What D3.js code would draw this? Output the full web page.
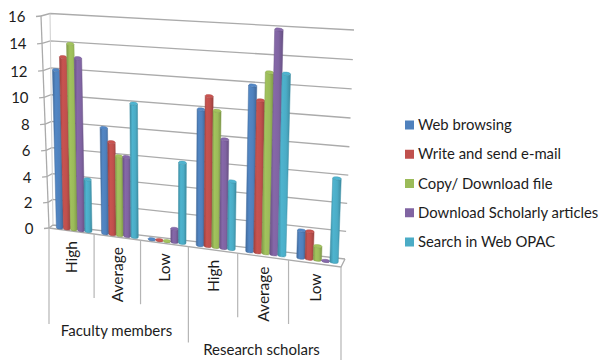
<!DOCTYPE html>
<html>
<head>
<meta charset="utf-8">
<script src="https://cdn.jsdelivr.net/npm/d3@7"></script>
<style>
  html, body { margin: 0; padding: 0; background: #fff; }
  text { font-family: Lato, "Open Sans", sans-serif; fill: #1c1c1c; }
</style>
</head>
<body>
<svg id="chart" width="601" height="360"></svg>
<script>
// Usage level counts per respondent group
const groups = ["Faculty members", "Research scholars"];
const levels = ["High", "Average", "Low"];
const seriesNames = ["Web browsing", "Write and send e-mail", "Copy/ Download file", "Download Scholarly articles", "Search in Web OPAC"];
const seriesColors = ["#4F81BD", "#C0504D", "#9BBB59", "#8064A2", "#4BACC6"];
const webBrowsing = [12, 8, 0, 10, 12, 2];
const writeEmail = [13, 7, 0, 11, 11, 2];
const copyDownload = [14, 6, 0, 10, 13, 1];
const downloadArticles = [13, 6, 1, 8, 16, 0];
const searchOpac = [4, 10, 6, 5, 13, 6];
const seriesValues = [webBrowsing, writeEmail, copyDownload, downloadArticles, searchOpac];
const valueTicks = [0, 2, 4, 6, 8, 10, 12, 14, 16];

const svg = d3.select("#chart");

// Corners of the 3D plot box as seen on screen: [front, back] at bottom and top, left and right.
const box = {
  lb: [[49, 228], [53, 225]],
  lt: [[41, 16], [50, 13.5]],
  rb: [[341, 267], [345, 259]],
  rt: [[349, 38], [354, 30]]
};
const mix = (a, b, t) => [a[0] + (b[0] - a[0]) * t, a[1] + (b[1] - a[1]) * t];
const persp = (t, r) => t / (t + r * (1 - t));

const value = d3.scaleLinear().domain([0, 16]).range([0, 1]);
const slots = d3.range(levels.length * groups.length);
const slot = d3.scaleBand().domain(slots).range([0, 1]);
const barPos = d3.scaleBand().domain(d3.range(seriesNames.length)).range([0.12, 0.91]);

// Maps (across, value, depth) in the unit box to a screen point.
function project(u, v, w) {
  const pu = persp(u, 1.095), pv = persp(v, 1.04);
  const left = mix(mix(box.lb[0], box.lb[1], w), mix(box.lt[0], box.lt[1], w), pv);
  const right = mix(mix(box.rb[0], box.rb[1], w), mix(box.rt[0], box.rt[1], w), pv);
  return mix(left, right, pu);
}
const line = (pts, attrs) => {
  const p = svg.append("path").attr("d", d3.line()(pts)).attr("fill", "none");
  Object.entries(attrs).forEach(([k, a]) => p.attr(k, a));
  return p;
};
const gridStyle = { stroke: "#ababab", "stroke-width": 1.3 };

// Walls: gridlines on the back and side walls
valueTicks.forEach(t => {
  const v = value(t);
  line([project(0, v, 0), project(0, v, 1), project(1, v, 1)], gridStyle);
  const a = project(0, v, 0);
  line([[a[0] - 5, a[1] + 0.5], a], gridStyle);
});
line([project(0, 0, 0), project(0, 1, 0)], gridStyle);
line([project(0, 0, 1), project(0, 1, 1)], { stroke: "#cfcfcf", "stroke-width": 1 });

// Floor outline
line([project(0, 0, 0), project(1, 0, 0), project(1, 0, 1)], gridStyle);

// Value labels follow the slanted front edge
svg.append("g").selectAll("text").data(valueTicks).join("text")
  .attr("x", d => project(0, value(d), 0)[0] - 15.5)
  .attr("y", d => project(0, value(d), 0)[1] + 6)
  .attr("text-anchor", "end")
  .attr("font-size", 15)
  .text(d => d);

// Cylinder shading
const defs = svg.append("defs");
seriesColors.forEach((c, i) => {
  const g = defs.append("linearGradient").attr("id", "bar" + i);
  const base = d3.color(c);
  [[0, base.darker(0.55)], [0.3, base.brighter(0.12)], [0.65, base], [1, base.darker(0.6)]].forEach(([o, col]) =>
    g.append("stop").attr("offset", o).attr("stop-color", col));
});

// Bars, series by series within every slot
const capRy = 1.5;
slots.forEach(s => {
  const start = slot(s), span = slot.bandwidth();
  seriesValues.forEach((vals, i) => {
    const u0 = start + barPos(i) * span;
    const u1 = start + (barPos(i) + barPos.bandwidth()) * span;
    const v = value(vals[s]);
    const bl = project(u0, 0, 0.5), br = project(u1, 0, 0.5);
    const tl = project(u0, v, 0.5), tr = project(u1, v, 0.5);
    const rx = (br[0] - bl[0]) / 2;
    const tilt = Math.atan2(br[1] - bl[1], br[0] - bl[0]) * 180 / Math.PI;
    const d = `M${tl}L${bl}A${rx} ${capRy} ${tilt} 0 0 ${br}L${tr}A${rx} ${capRy} ${tilt} 0 1 ${tl}Z`;
    svg.append("path").attr("d", d)
      .attr("fill", `url(#bar${i})`)
      .attr("stroke", d3.color(seriesColors[i]).darker(0.5))
      .attr("stroke-width", 0.5);
    const cx = (tl[0] + tr[0]) / 2, cy = (tl[1] + tr[1]) / 2;
    svg.append("ellipse")
      .attr("cx", cx).attr("cy", cy)
      .attr("rx", rx).attr("ry", capRy)
      .attr("transform", `rotate(${tilt} ${cx} ${cy})`)
      .attr("fill", d3.color(seriesColors[i]).brighter(0.15))
      .attr("stroke", d3.color(seriesColors[i]).darker(0.3))
      .attr("stroke-width", 0.4);
  });
});

// Category dividers under the floor: group boundaries drop further than slot boundaries
const slotDrop = 64, groupDrop = 96;
d3.range(slots.length + 1).forEach(k => {
  const p = project(k / slots.length, 0, 0);
  const drop = k % levels.length === 0 ? groupDrop : slotDrop;
  line([p, [p[0], p[1] + drop]], { stroke: "#b5b5b5", "stroke-width": 1.2 });
});

// Level labels
slots.forEach(s => {
  const p = project(slot(s) + slot.bandwidth() / 2, 0, 0);
  const x = p[0] + 1, y = p[1] + 10;
  svg.append("text")
    .attr("transform", `translate(${x + 5},${y}) rotate(-90)`)
    .attr("text-anchor", "end")
    .attr("font-size", 15.5)
    .text(levels[s % levels.length]);
});

// Group labels
const groupCentres = [116.5, 261.5], groupBaselines = [336, 355];
groups.forEach((g, i) => {
  svg.append("text")
    .attr("x", groupCentres[i]).attr("y", groupBaselines[i])
    .attr("text-anchor", "middle")
    .attr("font-size", 15)
    .text(g);
});

// Legend
const legendY = d3.scalePoint().domain(seriesNames).range([125, 242]);
const legend = svg.append("g").selectAll("g").data(seriesNames).join("g")
  .attr("transform", d => `translate(405,${legendY(d)})`);
legend.append("rect").attr("x", 0).attr("y", -4.5).attr("width", 9).attr("height", 9)
  .attr("fill", (d, i) => seriesColors[i]);
legend.append("text").attr("x", 13).attr("y", 5).attr("font-size", 14.85).text(d => d);
</script>
</body>
</html>
